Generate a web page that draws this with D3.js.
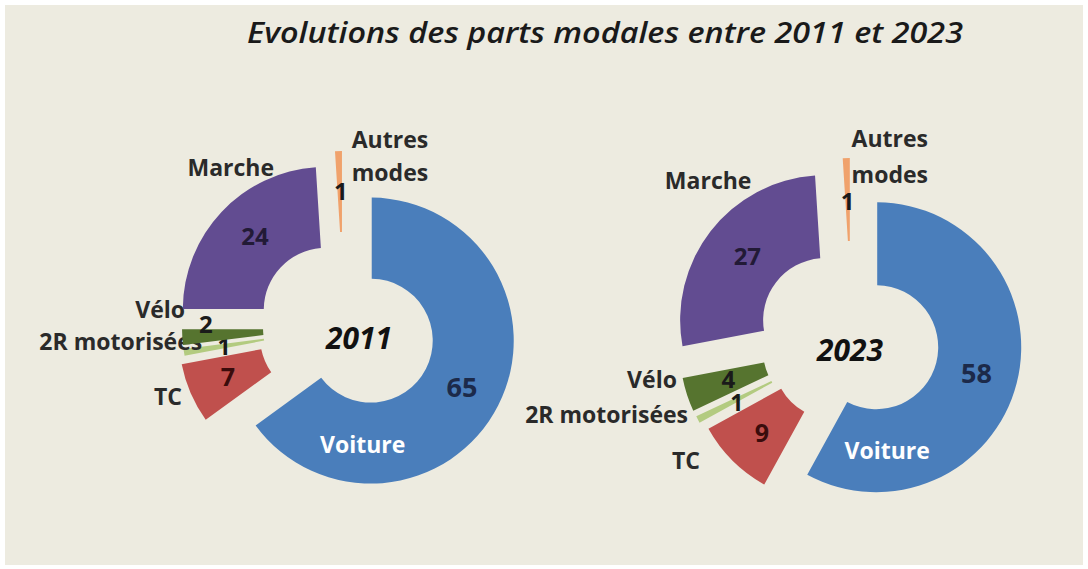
<!DOCTYPE html>
<html lang="fr">
<head>
<meta charset="utf-8" />
<script src="https://cdnjs.cloudflare.com/ajax/libs/d3/7.8.5/d3.min.js"></script>
<style>
  body { margin: 0; background: #fff; }
  svg { display: block; }
  text { font-family: 'Open Sans', sans-serif; }
</style>
<title>Parts modales</title>
</head>
<body>
<div id="chart"></div>
<script>
// Data
const categories = ['Voiture', 'TC', '2R motorisées', 'Vélo', 'Marche', 'Autres modes'];
const years = ['2011', '2023'];
const shares2011 = [65, 7, 1, 2, 24, 1];
const shares2023 = [58, 9, 1, 4, 27, 1];
const title = 'Evolutions des parts modales entre 2011 et 2023';

const width = 1088;
const height = 569;

const colors = ['#4a7ebb', '#c0504d', '#b3cb80', '#56742f', '#624c91', '#f0a26c'];
const valueColors = ['#1c2a4a', '#3a0c0c', '#1a1a1a', '#1a1a1a', '#221a36', '#1a1a1a'];
const valueSizes = [27, 25, 23, 24, 24, 24];

// layout of each doughnut: centre, radii, explosion per slice, label offsets from the slice centre
const charts = [
    {
        year: years[0], values: shares2011, cx: 344, cy: 327, r0: 62, r1: 143,
        explode: [30, 24, 19, 19, 25, 33],
        yearPos: [15, 11],
        valueNudge: [[0, 0], [0, 0], [0, 1], [-17, -10], [4, -3], [1, 0]],
        labels: [
            { dx: -8, dy: 104, anchor: 'middle' },
            { dx: -140, dy: 60, anchor: 'end' },
            { dx: -123, dy: 12, anchor: 'end' },
            { dx: -140, dy: -18, anchor: 'end' },
            { dx: -95, dy: -142, anchor: 'middle' },
            { dx: 47, dy: -154, anchor: 'middle', lines: 33 }
        ]
    },
    {
        year: years[1], values: shares2023, cx: 852, cy: 341, r0: 62, r1: 145,
        explode: [25, 24, 28, 28.5, 34, 38],
        yearPos: [-2, 9],
        valueNudge: [[0, 0], [0, 2], [2, 2], [2, -2], [4, 0], [0, 2]],
        labels: [
            { dx: 11, dy: 104, anchor: 'middle' },
            { dx: -135, dy: 103, anchor: 'end' },
            { dx: -139, dy: 61, anchor: 'end' },
            { dx: -148, dy: 30, anchor: 'end' },
            { dx: -117, dy: -139, anchor: 'middle' },
            { dx: 39, dy: -164, anchor: 'middle', lines: 36 }
        ]
    }
];

const svg = d3.select('#chart')
    .append('svg')
    .attr('width', width)
    .attr('height', height);

svg.append('rect')
    .attr('x', 5).attr('y', 5)
    .attr('width', width - 10).attr('height', height - 9)
    .attr('fill', '#edebe0');

svg.append('text')
    .attr('x', 247)
    .attr('y', 43)
    .attr('textLength', 716)
    .attr('lengthAdjust', 'spacingAndGlyphs')
    .attr('font-size', 28)
    .attr('font-style', 'italic')
    .attr('font-weight', 600)
    .attr('fill', '#1a1a1a')
    .text(title);

const pie = d3.pie().sort(null).value((d) => d);

charts.forEach((c) => {
    const arc = d3.arc()
        .innerRadius(c.r0)
        .outerRadius(c.r1)
        .padAngle(0.02)
        .padRadius(100);

    const slices = pie(c.values).map((d, i) => {
        const mid = (d.startAngle + d.endAngle) / 2;
        return {
            ...d,
            i,
            ox: c.cx + c.explode[i] * Math.sin(mid),
            oy: c.cy - c.explode[i] * Math.cos(mid)
        };
    });

    const g = svg.append('g');

    const slice = g.selectAll('g.slice')
        .data(slices)
        .enter()
        .append('g')
        .attr('class', 'slice')
        .attr('transform', (d) => `translate(${d.ox},${d.oy})`);

    slice.append('path')
        .attr('d', arc)
        .attr('fill', (d) => colors[d.i]);

    // values
    slice.append('text')
        .attr('x', (d) => arc.centroid(d)[0] + c.valueNudge[d.i][0])
        .attr('y', (d) => arc.centroid(d)[1] + c.valueNudge[d.i][1])
        .attr('dy', '0.36em')
        .attr('text-anchor', 'middle')
        .attr('font-size', (d) => valueSizes[d.i])
        .attr('font-weight', 'bold')
        .attr('fill', (d) => valueColors[d.i])
        .text((d) => d.data);

    // category names
    slice.each(function (d) {
        const l = c.labels[d.i];
        const name = categories[d.i];
        const words = l.lines ? name.split(' ') : [name];
        const t = d3.select(this).append('text')
            .attr('text-anchor', l.anchor)
            .attr('font-size', 23)
            .attr('font-weight', 'bold')
            .attr('fill', d.i === 0 ? '#ffffff' : '#2a2a2a');
        words.forEach((w, k) => {
            t.append('tspan')
                .attr('x', l.dx)
                .attr('y', l.dy + k * (l.lines || 0))
                .attr('dy', '0.36em')
                .text(w);
        });
    });

    g.append('text')
        .attr('x', c.cx + c.yearPos[0])
        .attr('y', c.cy + c.yearPos[1])
        .attr('dy', '0.36em')
        .attr('text-anchor', 'middle')
        .attr('font-size', 30)
        .attr('font-weight', 'bold')
        .attr('font-style', 'italic')
        .attr('fill', '#111')
        .text(c.year);
});
</script>
</body>
</html>
